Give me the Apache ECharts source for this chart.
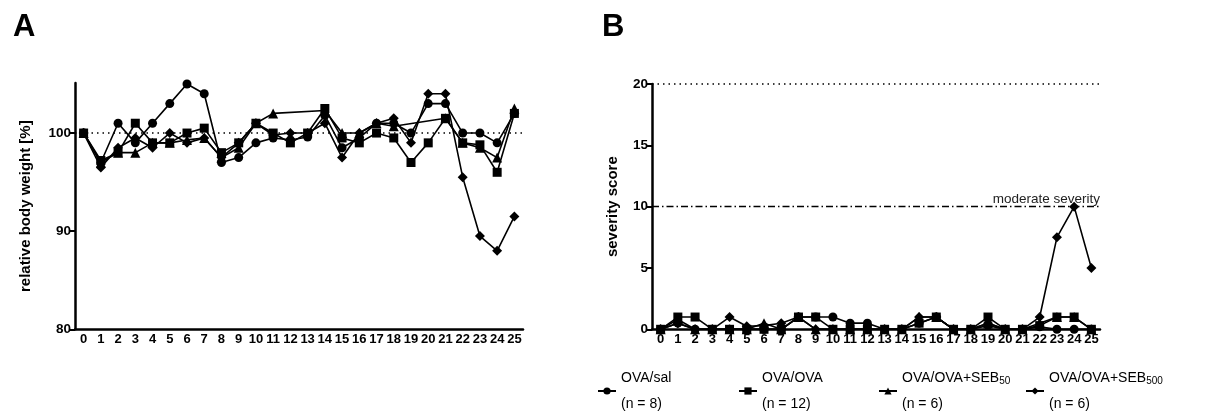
<!DOCTYPE html>
<html>
<head>
<meta charset="utf-8">
<script src="https://cdn.jsdelivr.net/npm/echarts@6/dist/echarts.min.js"></script>
<style>
  html, body { margin: 0; padding: 0; background: #fff; }
  #main { width: 1224px; height: 412px; }
</style>
</head>
<body>
<div id="main"></div>
<script>
// days
const days = Array.from({ length: 26 }, (_, i) => String(i));

// A: relative body weight [%]
const weightSal = [100, 97, 101, 99, 101, 103, 105, 104, 97, 97.5, 99, 99.5, 99.3, 99.6, 101.8, 98.5, 99.5, 101, 101, 100, 103, 103, 100, 100, 99, 102];
const weightOva = [100, 97.2, 98, 101, 99, 99, 100, 100.5, 98, 99, 101, 100, 99, 100, 102.5, 99.5, 99, 100, 99.5, 97, 99, 101.5, 99, 98.8, 96, 102];
const weightSeb50 = [100, 97, 98, 98, 99, 99, 99.3, 99.5, 97.5, 98.5, 101, 102, null, null, 102.3, 100, 100, 101, 100.7, null, null, 101.5, 99, 98.5, 97.5, 102.5];
const weightSeb500 = [100, 96.5, 98.5, 99.5, 98.5, 100, 99, 99.5, 97.5, 99, 101, 99.8, 100, 100, 101, 97.5, 100, 101, 101.5, 99, 104, 104, 95.5, 89.5, 88, 91.5];

// B: severity score
const scoreSal = [0, 0.5, 0, 0, 0, 0, 0, 0, 1, 1, 1, 0.5, 0.5, 0, 0, 0.5, 1, 0, 0, 0.3, 0, 0, 0.2, 0, 0, 0];
const scoreOva = [0, 1, 1, 0, 0, 0, 0, 0, 1, 1, 0, 0, 0, 0, 0, 0.5, 1, 0, 0, 1, 0, 0, 0.3, 1, 1, 0];
const scoreSeb50 = [0, 0.8, 0, 0, 0, 0, 0.5, 0, 1, 0, 0, 0, 0, 0, 0, 1, 1, 0, 0, 0.5, 0, 0, 0.5, 1, 1, 0];
const scoreSeb500 = [0, 0.5, 0, 0, 1, 0.25, 0.3, 0.5, 1, 0, 0, 0, 0, 0, 0, 1, 1, 0, 0, 0.5, 0, 0, 1, 7.5, 10, 5];

const groups = ['OVA/sal', 'OVA/OVA', 'OVA/OVA+SEB50', 'OVA/OVA+SEB500'];
const groupN = [8, 12, 6, 6];
const symbols = ['circle', 'rect', 'triangle', 'diamond'];
const symbolSizes = [9, 9, 10, 10];
const legendLeft = [592, 733, 873, 1020];

const FONT = 'Liberation Sans, Arial, sans-serif';

var chartDom = document.getElementById('main');
var myChart = echarts.init(chartDom, null, { renderer: 'canvas' });

const xAxisBase = (gridIndex) => ({
  type: 'category',
  gridIndex: gridIndex,
  data: days,
  boundaryGap: true,
  axisLine: { lineStyle: { color: '#000', width: 2.5 } },
  axisTick: { alignWithLabel: true, length: 6, lineStyle: { color: '#000', width: 2 } },
  axisLabel: { interval: 0, color: '#000', fontWeight: 'bold', fontSize: 13, fontFamily: FONT, margin: 4 },
  splitLine: { show: false }
});

const yAxisCommon = {
  axisLine: { show: true, lineStyle: { color: '#000', width: 2.5 } },
  axisTick: { show: true, length: 6, lineStyle: { color: '#000', width: 2 } },
  axisLabel: { color: '#000', fontWeight: 'bold', fontSize: 13.5, fontFamily: FONT, margin: 4 },
  splitLine: { show: false },
  nameLocation: 'middle',
  nameTextStyle: { color: '#000', fontWeight: 'bold', fontSize: 15, fontFamily: FONT }
};

const weights = [weightSal, weightOva, weightSeb50, weightSeb500];
const scores = [scoreSal, scoreOva, scoreSeb50, scoreSeb500];

let series = [];
groups.forEach((g, i) => {
  series.push({
    name: g,
    type: 'line',
    xAxisIndex: 0,
    yAxisIndex: 0,
    data: weights[i],
    connectNulls: true,
    symbol: symbols[i],
    symbolSize: symbolSizes[i],
    showAllSymbol: true,
    color: '#000',
    lineStyle: { color: '#000', width: 1.6 },
    itemStyle: { color: '#000' },
    animation: false,
    markLine: i === 0 ? {
      silent: true,
      symbol: 'none',
      label: { show: false },
      lineStyle: { color: '#000', type: [1.5, 4], width: 1.5 },
      data: [{ yAxis: 100 }]
    } : undefined
  });
});
groups.forEach((g, i) => {
  series.push({
    name: g,
    type: 'line',
    xAxisIndex: 1,
    yAxisIndex: 1,
    data: scores[i],
    symbol: symbols[i],
    symbolSize: symbolSizes[i],
    showAllSymbol: true,
    color: '#000',
    lineStyle: { color: '#000', width: 1.6 },
    itemStyle: { color: '#000' },
    animation: false,
    markLine: i === 0 ? {
      silent: true,
      symbol: 'none',
      data: [
        {
          yAxis: 20,
          label: { show: false },
          lineStyle: { color: '#000', type: [1.5, 4], width: 1.5 }
        },
        {
          yAxis: 10,
          label: {
            show: true,
            position: 'insideEndTop',
            formatter: 'moderate severity',
            color: '#222',
            fontSize: 13.5,
            fontFamily: FONT,
            distance: 0
          },
          lineStyle: { color: '#000', type: [7, 3, 1.5, 3], width: 1.3 }
        }
      ]
    } : undefined
  });
});

const legendLabel = (name) => {
  const i = groups.indexOf(name);
  let txt = name;
  if (name === 'OVA/OVA+SEB50') txt = 'OVA/OVA+SEB{sub|50}';
  if (name === 'OVA/OVA+SEB500') txt = 'OVA/OVA+SEB{sub|500}';
  return txt + '\n(n = ' + groupN[i] + ')';
};

var option = {
  backgroundColor: '#fff',
  animation: false,
  textStyle: { fontFamily: FONT },
  title: [
    { text: 'A', left: 8, top: 7, textStyle: { fontSize: 31, fontWeight: 'bold', color: '#000', fontFamily: FONT } },
    { text: 'B', left: 597, top: 7, textStyle: { fontSize: 31, fontWeight: 'bold', color: '#000', fontFamily: FONT } }
  ],
  legend: groups.map((g, i) => ({
    data: [g],
    left: legendLeft[i],
    top: 360,
    itemWidth: 18,
    itemHeight: 9,
    selectedMode: false,
    formatter: legendLabel,
    textStyle: {
      color: '#000',
      fontSize: 14,
      fontFamily: FONT,
      lineHeight: 26,
      rich: {
        sub: { fontSize: 10, lineHeight: 20, padding: [7, 0, 0, 0], verticalAlign: 'middle', color: '#000', fontFamily: FONT }
      }
    }
  })),
  grid: [
    { left: 75, top: 83, width: 448, height: 246.3 },
    { left: 652, top: 84, width: 448, height: 245.3 }
  ],
  xAxis: [xAxisBase(0), xAxisBase(1)],
  yAxis: [
    Object.assign({}, yAxisCommon, {
      type: 'value',
      gridIndex: 0,
      min: 80,
      max: 105.1,
      interval: 10,
      name: 'relative body weight [%]',
      nameGap: 42,
      axisTick: Object.assign({}, yAxisCommon.axisTick, { customValues: [80, 90, 100] }),
      axisLabel: Object.assign({}, yAxisCommon.axisLabel, { customValues: [80, 90, 100] })
    }),
    Object.assign({}, yAxisCommon, {
      type: 'value',
      gridIndex: 1,
      min: 0,
      max: 20,
      interval: 5,
      name: 'severity score',
      nameGap: 32
    })
  ],
  series: series
};

option && myChart.setOption(option, true);
window.onresize = () => {
  myChart.resize();
};
</script>
</body>
</html>
